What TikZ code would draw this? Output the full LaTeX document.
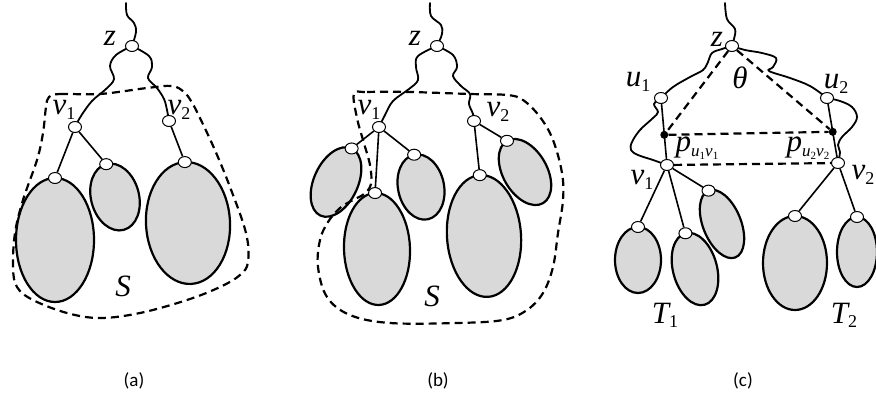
\documentclass[tikz,border=0pt]{standalone}
\usepackage{fontspec}
\setmainfont{Liberation Serif}
\newfontfamily\capfont{Carlito}
\usetikzlibrary{shapes.geometric,calc}
\pgfdeclarelayer{bg}
\pgfsetlayers{bg,main}
\definecolor{leafgray}{RGB}{217,217,217}
% italic letter with an upright index
\newcommand\idx[2]{\textit{#1}\raisebox{-0.3ex}{\upshape\fontsize{18}{18}\selectfont #2}}
% path label p_{u_i v_i}
\newcommand\pth[1]{\textit{p}\raisebox{-0.4ex}{\fontsize{17}{17}\selectfont\textit{u}\raisebox{-0.3ex}{\upshape\fontsize{11}{11}\selectfont #1}\textit{v}\raisebox{-0.3ex}{\upshape\fontsize{11}{11}\selectfont #1}}}
\begin{document}
\begin{tikzpicture}[x=1pt,y=-1pt,
  leaf/.style={ellipse,draw,line width=2.2pt,fill=leafgray,inner sep=0pt,outer sep=0pt},
  knot/.style={ellipse,draw,line width=1pt,fill=white,minimum width=13pt,minimum height=11pt,inner sep=0pt},
  pin/.style={circle,fill=black,minimum size=8pt,inner sep=0pt},
  branch/.style={line width=1.6pt},
  wave/.style={line width=1.8pt,line join=round,line cap=round},
  region/.style={line width=2.2pt,dash pattern=on 8pt off 5pt},
  lbl/.style={font=\fontsize{31}{31}\selectfont\itshape,inner sep=0pt},
  figcap/.style={font=\capfont\fontsize{19}{19}\selectfont,inner sep=0pt}]
\useasboundingbox (0,0) rectangle (876,402);

%% ---------------- (a) ----------------
\node[knot] (az) at (132,46) {};
\node[knot] (av1) at (75,127) {};
\node[knot] (av2) at (169,121) {};
\node[leaf,minimum width=78pt,minimum height=124pt] (aL1) at (55,240) {};
\node[leaf,minimum width=48pt,minimum height=68pt,rotate=15] (aL2) at (115,197) {};
\node[leaf,minimum width=84pt,minimum height=122pt,rotate=3] (aL3) at (188,223) {};
\node[knot] (ac1) at (aL1.north) {};
\node[knot] (ac2) at (aL2.north) {};
\node[knot] (ac3) at (aL3.north) {};
\coordinate (atop) at (126,3);
\begin{pgfonlayer}{bg}
\draw[wave] plot[smooth,tension=0.6] coordinates {(atop) (127,15) (134,23) (136,32) (az)};
\draw[wave] plot[smooth,tension=0.6] coordinates {(az) (116,55) (110,66) (114,79) (106,89) (92,101) (81,116) (av1)};
\draw[wave] plot[smooth,tension=0.6] coordinates {(az) (149,56) (152,67) (148,78) (157,88) (164,99) (167,110) (av2)};
\end{pgfonlayer}
\draw[branch] (av1) -- (ac1);
\draw[branch] (av1) -- (ac2);
\draw[branch] (av2) -- (ac3);
\draw[region] plot[smooth cycle,tension=0.6] coordinates {
  (49,97) (60,94) (100,94) (147,88) (172,86) (184,92) (191,101) (198,114) (214,148)
  (230,187) (246,233) (248,262) (240,275) (220,287) (187,300) (140,313) (100,318)
  (67,313) (33,300) (17,287) (13,267) (15,233) (23,200) (37,160) (43,133) (46,107)};
\node[lbl] (azl) at (110,38) {z};
\node[lbl] (av1l) at (64,110) {\idx{v}{1}};
\node[lbl] (av2l) at (179,110) {\idx{v}{2}};
\node[lbl] (aS) at (123,286) {S};
\node[figcap] (acap) at (134,381) {(a)};

%% ---------------- (b) ----------------
\node[knot] (bz) at (437,46) {};
\node[knot] (bv1) at (379,127) {};
\node[knot] (bv2) at (474,121) {};
\node[leaf,minimum width=44pt,minimum height=74pt,rotate=-25] (bL1) at (336,182) {};
\node[leaf,minimum width=66pt,minimum height=112pt,rotate=2] (bL2) at (377,249) {};
\node[leaf,minimum width=46pt,minimum height=66pt,rotate=12] (bL3) at (421,187) {};
\node[leaf,minimum width=74pt,minimum height=122pt,rotate=4] (bL4) at (484,236) {};
\node[leaf,minimum width=44pt,minimum height=72pt,rotate=30] (bL5) at (525,172) {};
\node[knot] (bc1) at (bL1.north) {};
\node[knot] (bc2) at (bL2.north) {};
\node[knot] (bc3) at (bL3.north) {};
\node[knot] (bc4) at (bL4.north) {};
\node[knot] (bc5) at (bL5.north) {};
\coordinate (btop) at (430,3);
\begin{pgfonlayer}{bg}
\draw[wave] plot[smooth,tension=0.6] coordinates {(btop) (431,16) (441,25) (442,34) (bz)};
\draw[wave] plot[smooth,tension=0.6] coordinates {(bz) (418,56) (416,67) (418,80) (409,89) (393,101) (385,115) (bv1)};
\draw[wave] plot[smooth,tension=0.6] coordinates {(bz) (453,55) (457,67) (453,76) (461,86) (470,94) (469,104) (473,114) (bv2)};
\end{pgfonlayer}
\draw[branch] (bv1) -- (bc1);
\draw[branch] (bv1) -- (bc2);
\draw[branch] (bv1) -- (bc3);
\draw[branch] (bv2) -- (bc4);
\draw[branch] (bv2) -- (bc5);
\draw[region] plot[smooth cycle,tension=0.6] coordinates {
  (354,94) (367,92) (410,92) (470,94) (507,95) (523,100) (540,117) (553,140)
  (562,173) (563,200) (558,233) (553,267) (543,293) (527,310) (503,320) (457,323)
  (390,323) (350,315) (327,297) (318,267) (320,240) (328,222) (340,208) (353,200)
  (364,194) (371,184) (370,165) (363,140) (357,118)};
\node[lbl] (bzl) at (415,38) {z};
\node[lbl] (bv1l) at (369,110) {\idx{v}{1}};
\node[lbl] (bv2l) at (498,112) {\idx{v}{2}};
\node[lbl] (bS) at (432,296) {S};
\node[figcap] (bcap) at (438,381) {(b)};

%% ---------------- (c) ----------------
\node[knot] (cz) at (732,46) {};
\node[knot] (cu1) at (661,98) {};
\node[knot] (cu2) at (827,98) {};
\node[knot] (cv1) at (667,165) {};
\node[knot] (cv2) at (838,163) {};
\node[pin] (cp1) at ($(cu1)!0.55!(cv1)$) {};
\node[pin] (cp2) at ($(cu2)!0.52!(cv2)$) {};
\node[leaf,minimum width=46pt,minimum height=66pt] (cL1) at (638,260) {};
\node[leaf,minimum width=44pt,minimum height=74pt,rotate=15] (cL2) at (695,269) {};
\node[leaf,minimum width=38pt,minimum height=72pt,rotate=22] (cL3) at (722,224) {};
\node[leaf,minimum width=64pt,minimum height=94pt] (cL4) at (795,263) {};
\node[leaf,minimum width=40pt,minimum height=70pt] (cL5) at (857,252) {};
\node[knot] (cc1) at (cL1.north) {};
\node[knot] (cc2) at (cL2.north) {};
\node[knot] (cc3) at (cL3.north) {};
\node[knot] (cc4) at (cL4.north) {};
\node[knot] (cc5) at (cL5.north) {};
\coordinate (ctop) at (725,3);
\begin{pgfonlayer}{bg}
\draw[wave] plot[smooth,tension=0.6] coordinates {(ctop) (727,19) (735,29) (734,39) (cz)};
\draw[wave] plot[smooth,tension=0.6] coordinates {(cz) (722,49) (712,53) (708,62) (703,70) (690,77) (673,87) (cu1)};
\draw[wave] plot[smooth,tension=0.6] coordinates {(cz) (745,50) (762,53) (776,58) (773,67) (769,71) (790,78) (810,86) (cu2)};
\draw[wave] plot[smooth,tension=0.6] coordinates {(cu1) (654,104) (658,112) (653,118) (640,130) (632,142) (631,150) (638,155) (653,160) (cv1)};
\draw[wave] plot[smooth,tension=0.6] coordinates {(cu2) (840,101) (852,107) (857,117) (852,127) (842,137) (838,145) (840,152) (cv2)};
\end{pgfonlayer}
\draw[branch] (cu1) -- (cv1);
\draw[branch] (cu2) -- (cv2);
\draw[region] (cz) -- (cp1);
\draw[region] (cz) -- (cp2);
\draw[region] (cp1) -- (cp2);
\draw[region] (cv1) -- (cv2);
\draw[branch] (cv1) -- (cc1);
\draw[branch] (cv1) -- (cc2);
\draw[branch] (cv1) -- (cc3);
\draw[branch] (cv2) -- (cc4);
\draw[branch] (cv2) -- (cc5);
\node[lbl] (czl) at (717,39) {z};
\node[lbl] (cu1l) at (638,82) {\idx{u}{1}};
\node[lbl] (cu2l) at (836,84) {\idx{u}{2}};
\node[lbl] (cth) at (740,78) {θ};
\node[lbl] (cp1l) at (697,148) {\pth{1}};
\node[lbl] (cp2l) at (808,148) {\pth{2}};
\node[lbl] (cv1l) at (642,180) {\idx{v}{1}};
\node[lbl] (cv2l) at (863,175) {\idx{v}{2}};
\node[lbl] (cT1) at (665,315) {\idx{T}{1}};
\node[lbl] (cT2) at (844,315) {\idx{T}{2}};
\node[figcap] (ccap) at (743,381) {(c)};
\end{tikzpicture}
\end{document}
